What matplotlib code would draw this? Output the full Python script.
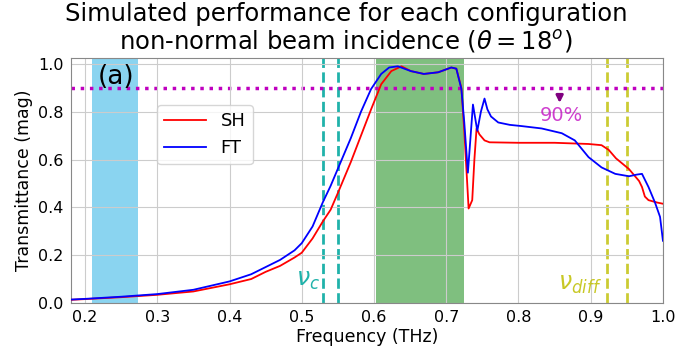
import matplotlib.pyplot as plt

# (THz, magnitude)
freq_sh = [0.18, 0.20, 0.25, 0.30, 0.35, 0.40, 0.43, 0.45, 0.47, 0.49, 0.50, 0.515,
           0.529, 0.54, 0.55, 0.568, 0.582, 0.596, 0.61, 0.624, 0.638, 0.651, 0.669,
           0.689, 0.707, 0.714, 0.721, 0.725, 0.731, 0.736, 0.739, 0.742, 0.746, 0.753,
           0.76, 0.80, 0.85, 0.897, 0.915, 0.925, 0.935, 0.953, 0.96, 0.967, 0.971,
           0.975, 0.98, 0.992, 1.0]
t_sh = [0.013, 0.016, 0.024, 0.034, 0.048, 0.078, 0.10, 0.13, 0.155, 0.19, 0.21, 0.27,
        0.34, 0.39, 0.46, 0.59, 0.70, 0.81, 0.915, 0.97, 0.99, 0.97, 0.958,
        0.965, 0.985, 0.98, 0.90, 0.72, 0.395, 0.43, 0.60, 0.73, 0.705, 0.68,
        0.672, 0.67, 0.67, 0.665, 0.66, 0.64, 0.605, 0.56, 0.535, 0.51, 0.485,
        0.445, 0.43, 0.42, 0.415]

freq_ft = [0.18, 0.20, 0.25, 0.30, 0.35, 0.40, 0.43, 0.45, 0.47, 0.49, 0.50, 0.515,
           0.529, 0.54, 0.554, 0.568, 0.582, 0.596, 0.61, 0.621, 0.633, 0.651, 0.669,
           0.689, 0.707, 0.714, 0.721, 0.725, 0.730, 0.737, 0.743, 0.748, 0.753, 0.757,
           0.762, 0.772, 0.788, 0.804, 0.832, 0.86, 0.878, 0.897, 0.915, 0.934, 0.953,
           0.964, 0.971, 0.98, 0.989, 0.996, 1.0]
t_ft = [0.014, 0.017, 0.026, 0.037, 0.055, 0.09, 0.12, 0.15, 0.18, 0.22, 0.25, 0.32,
        0.42, 0.49, 0.59, 0.69, 0.80, 0.895, 0.958, 0.985, 0.99, 0.97, 0.958,
        0.965, 0.985, 0.98, 0.895, 0.755, 0.545, 0.83, 0.72, 0.80, 0.855, 0.81,
        0.78, 0.755, 0.745, 0.74, 0.73, 0.71, 0.68, 0.61, 0.567, 0.54, 0.53,
        0.537, 0.54, 0.485, 0.42, 0.36, 0.26]

blue_band = (0.209, 0.274)
green_band = (0.603, 0.725)
nu_c = [0.529, 0.550]
nu_diff = [0.922, 0.950]
level = 0.9

plt.rcParams['font.family'] = 'DejaVu Sans'
fig = plt.figure(figsize=(6.92, 3.49), dpi=100)
ax = fig.add_axes([0.102, 0.132, 0.856, 0.702])

ax.axvspan(*blue_band, color='#8ad4f0', lw=0, zorder=0)
ax.axvspan(*green_band, color='green', alpha=0.5, lw=0, zorder=0)
for v in nu_c:
    ax.axvline(v, color='lightseagreen', ls='--', lw=2, zorder=1)
for v in nu_diff:
    ax.axvline(v, color='y', ls='--', lw=2, alpha=0.8, zorder=1)
ax.axhline(level, color='m', ls=':', lw=2.5, zorder=1)

ax.plot(freq_sh, t_sh, color='red', lw=1.3, label='SH', zorder=3)
ax.plot(freq_ft, t_ft, color='blue', lw=1.3, label='FT', zorder=3)

ax.annotate('', xy=(0.857, 0.825), xytext=(0.857, 0.88),
            arrowprops=dict(arrowstyle='-|>', color='purple', lw=2, mutation_scale=10))
ax.text(0.86, 0.785, '90%', color='m', alpha=0.75, fontsize=14, ha='center', va='center')
ax.text(0.243, 0.945, '(a)', fontsize=19, ha='center', va='center')
ax.text(0.508, 0.095, r'$\nu_c$', color='lightseagreen', fontsize=17, ha='center', va='center')
ax.text(0.885, 0.08, r'$\nu_{diff}$', color='y', alpha=0.85, fontsize=17, ha='center', va='center')

ax.set_xlim(0.18, 1.0)
ax.set_ylim(0, 1.025)
ax.set_xticks([0.2, 0.3, 0.4, 0.5, 0.6, 0.7, 0.8, 0.9, 1.0])
ax.set_yticks([0.0, 0.2, 0.4, 0.6, 0.8, 1.0])
ax.tick_params(labelsize=11.5, length=0, pad=5)
ax.grid(color='#cccccc', lw=0.8)
for s in ax.spines.values():
    s.set_color('#888888')
ax.set_xlabel('Frequency (THz)', fontsize=12.5, labelpad=2)
ax.set_ylabel('Transmittance (mag)', fontsize=12.5)
fig.text(0.5, 0.995, 'Simulated performance for each configuration\n'
         r'non-normal beam incidence ($\theta = 18^o$)', fontsize=17.5, ha='center', va='top',
         linespacing=1.1)
ax.legend(loc='upper left', bbox_to_anchor=(0.131, 0.845), fontsize=13, framealpha=0.8,
          handlelength=2.3)

fig.savefig('out.png', dpi=100)
